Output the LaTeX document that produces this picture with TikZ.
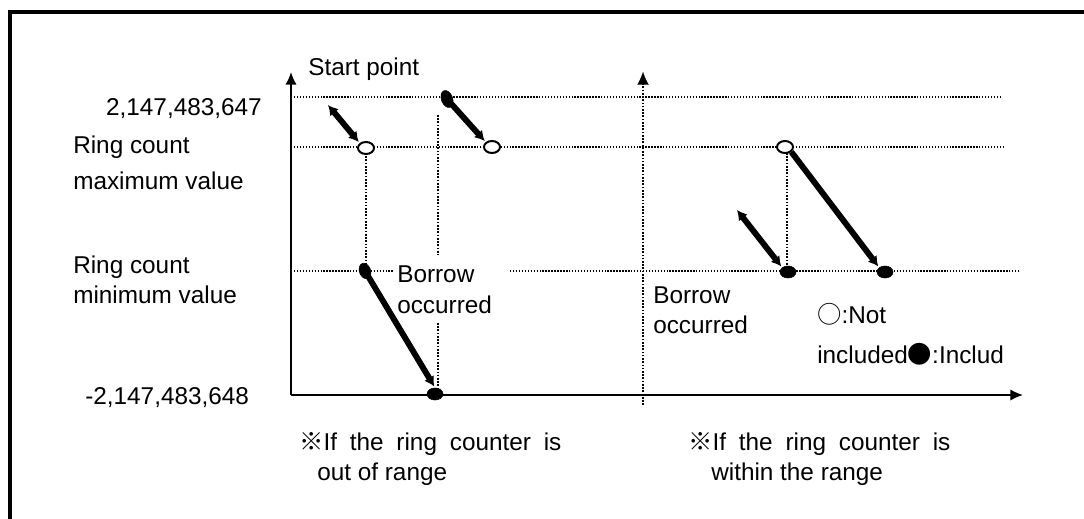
\documentclass[tikz,border=0pt]{standalone}
\usepackage{fontspec}
\setmainfont{Liberation Sans}
\newfontfamily\symfont{Noto Sans CJK KR}
\usetikzlibrary{shapes.geometric, arrows.meta, positioning}

\begin{document}
\begin{tikzpicture}[
    x=0.025cm, y=-0.025cm,
    >=Latex,
    lbl/.style={anchor=base west, inner sep=0pt, font=\fontsize{17.3}{20}\selectfont},
    axis/.style={line width=1.1pt, -{Latex[length=9pt, width=8pt]}},
    dotline/.style={line width=1.1pt, dash pattern=on 1pt off 1.1pt},
    vdot/.style={line width=1.5pt, dash pattern=on 1.2pt off 1.1pt},
    move/.style={line width=4.2pt, -{Latex[length=7pt, width=8pt]}, shorten >=1pt},
    bothmove/.style={move, {Latex[length=7pt, width=8pt]}-{Latex[length=7pt, width=8pt]}},
    opendot/.style={draw, ellipse, fill=white, line width=1.4pt, minimum width=0.4cm, minimum height=0.3cm, inner sep=0pt},
    filldot/.style={draw, ellipse, fill=black, minimum width=0.4cm, minimum height=0.3cm, inner sep=0pt}
]
\useasboundingbox (0,0) rectangle (1084,519);

% Frame
\draw[line width=2.3pt] (10,519) -- (10,12) -- (1084,12);

% Axes
\coordinate (origin) at (291,395);
\coordinate (ytop) at (291,72);
\coordinate (xend) at (1023,395);
\coordinate (rbot) at (643,405);
\coordinate (rtop) at (643,72);

% Levels (dotted)
\draw[dotline] (291,97) -- (1000,97);
\draw[dotline] (291,147) -- (1004,147);
\draw[dotline] (291,271) -- (393,271);
\draw[dotline] (510,271) -- (1018,271);
\draw[vdot] (rbot) -- (643,82);
\draw[axis] (origin) -- (ytop);
\draw[axis] (origin) -- (xend);
\draw[-{Latex[length=9pt, width=8pt]}, line width=0.1pt] (643,84) -- (rtop);

% Vertical guides
\draw[vdot] (366,153) -- (366,265);
\draw[vdot] (438,115) -- (438,255);
\draw[vdot] (438,323) -- (438,388);
\draw[vdot] (787,153) -- (787,265);

% Points
\node[opendot] (omax1) at (366,148) {};
\node[opendot] (omax2) at (492,147) {};
\node[opendot] (omax3) at (785,147) {};
\node[filldot, rotate=-70, minimum width=0.44cm, minimum height=0.28cm] (ftop) at (447,99) {};
\node[filldot, rotate=-70, minimum width=0.4cm, minimum height=0.28cm] (fmin1) at (365,271) {};
\node[filldot] (fbot) at (435,394) {};
\node[filldot] (fmin2) at (788,272) {};
\node[filldot] (fmin3) at (885,272) {};

% Count movements
\coordinate (s1) at (328,105);
\coordinate (s5) at (737,210);
\draw[bothmove] (s1) -- (omax1.north west);
\draw[move] (ftop.center) -- (omax2.north west);
\draw[move] (fmin1.center) -- (fbot.north);
\draw[move] (omax3.south east) -- (fmin3.north west);
\draw[bothmove] (s5) -- (fmin2.north west);

% Labels
\node[lbl, anchor=base east] (vmax) at (262,115) {2,147,483,647};
\node[lbl] (rmax1) at (73,153) {Ring count};
\node[lbl] (rmax2) at (73,189) {maximum value};
\node[lbl] (rmin1) at (73,273) {Ring count};
\node[lbl] (rmin2) at (73,303) {minimum value};
\node[lbl] (vmin) at (85,404) {-2,147,483,648};
\node[lbl] (start) at (308,76) {Start point};
\node[lbl] (bor1) at (397,282) {Borrow};
\node[lbl] (occ1) at (397,313) {occurred};
\node[lbl] (bor2) at (653,303) {Borrow};
\node[lbl] (occ2) at (653,333) {occurred};
\node[lbl] (key1) at (817,323) {{\symfont ○}:Not};
\node[lbl] (key2) at (817,363) {included{\symfont ●}:Includ};
\node[lbl] (out1) at (299,450) {\makebox[6.55cm][s]{{\symfont ※}If the ring counter is}};
\node[lbl] (out2) at (317,480) {out of range};
\node[lbl] (in1) at (688,450) {\makebox[6.55cm][s]{{\symfont ※}If the ring counter is}};
\node[lbl] (in2) at (711,480) {within the range};

\end{tikzpicture}
\end{document}
